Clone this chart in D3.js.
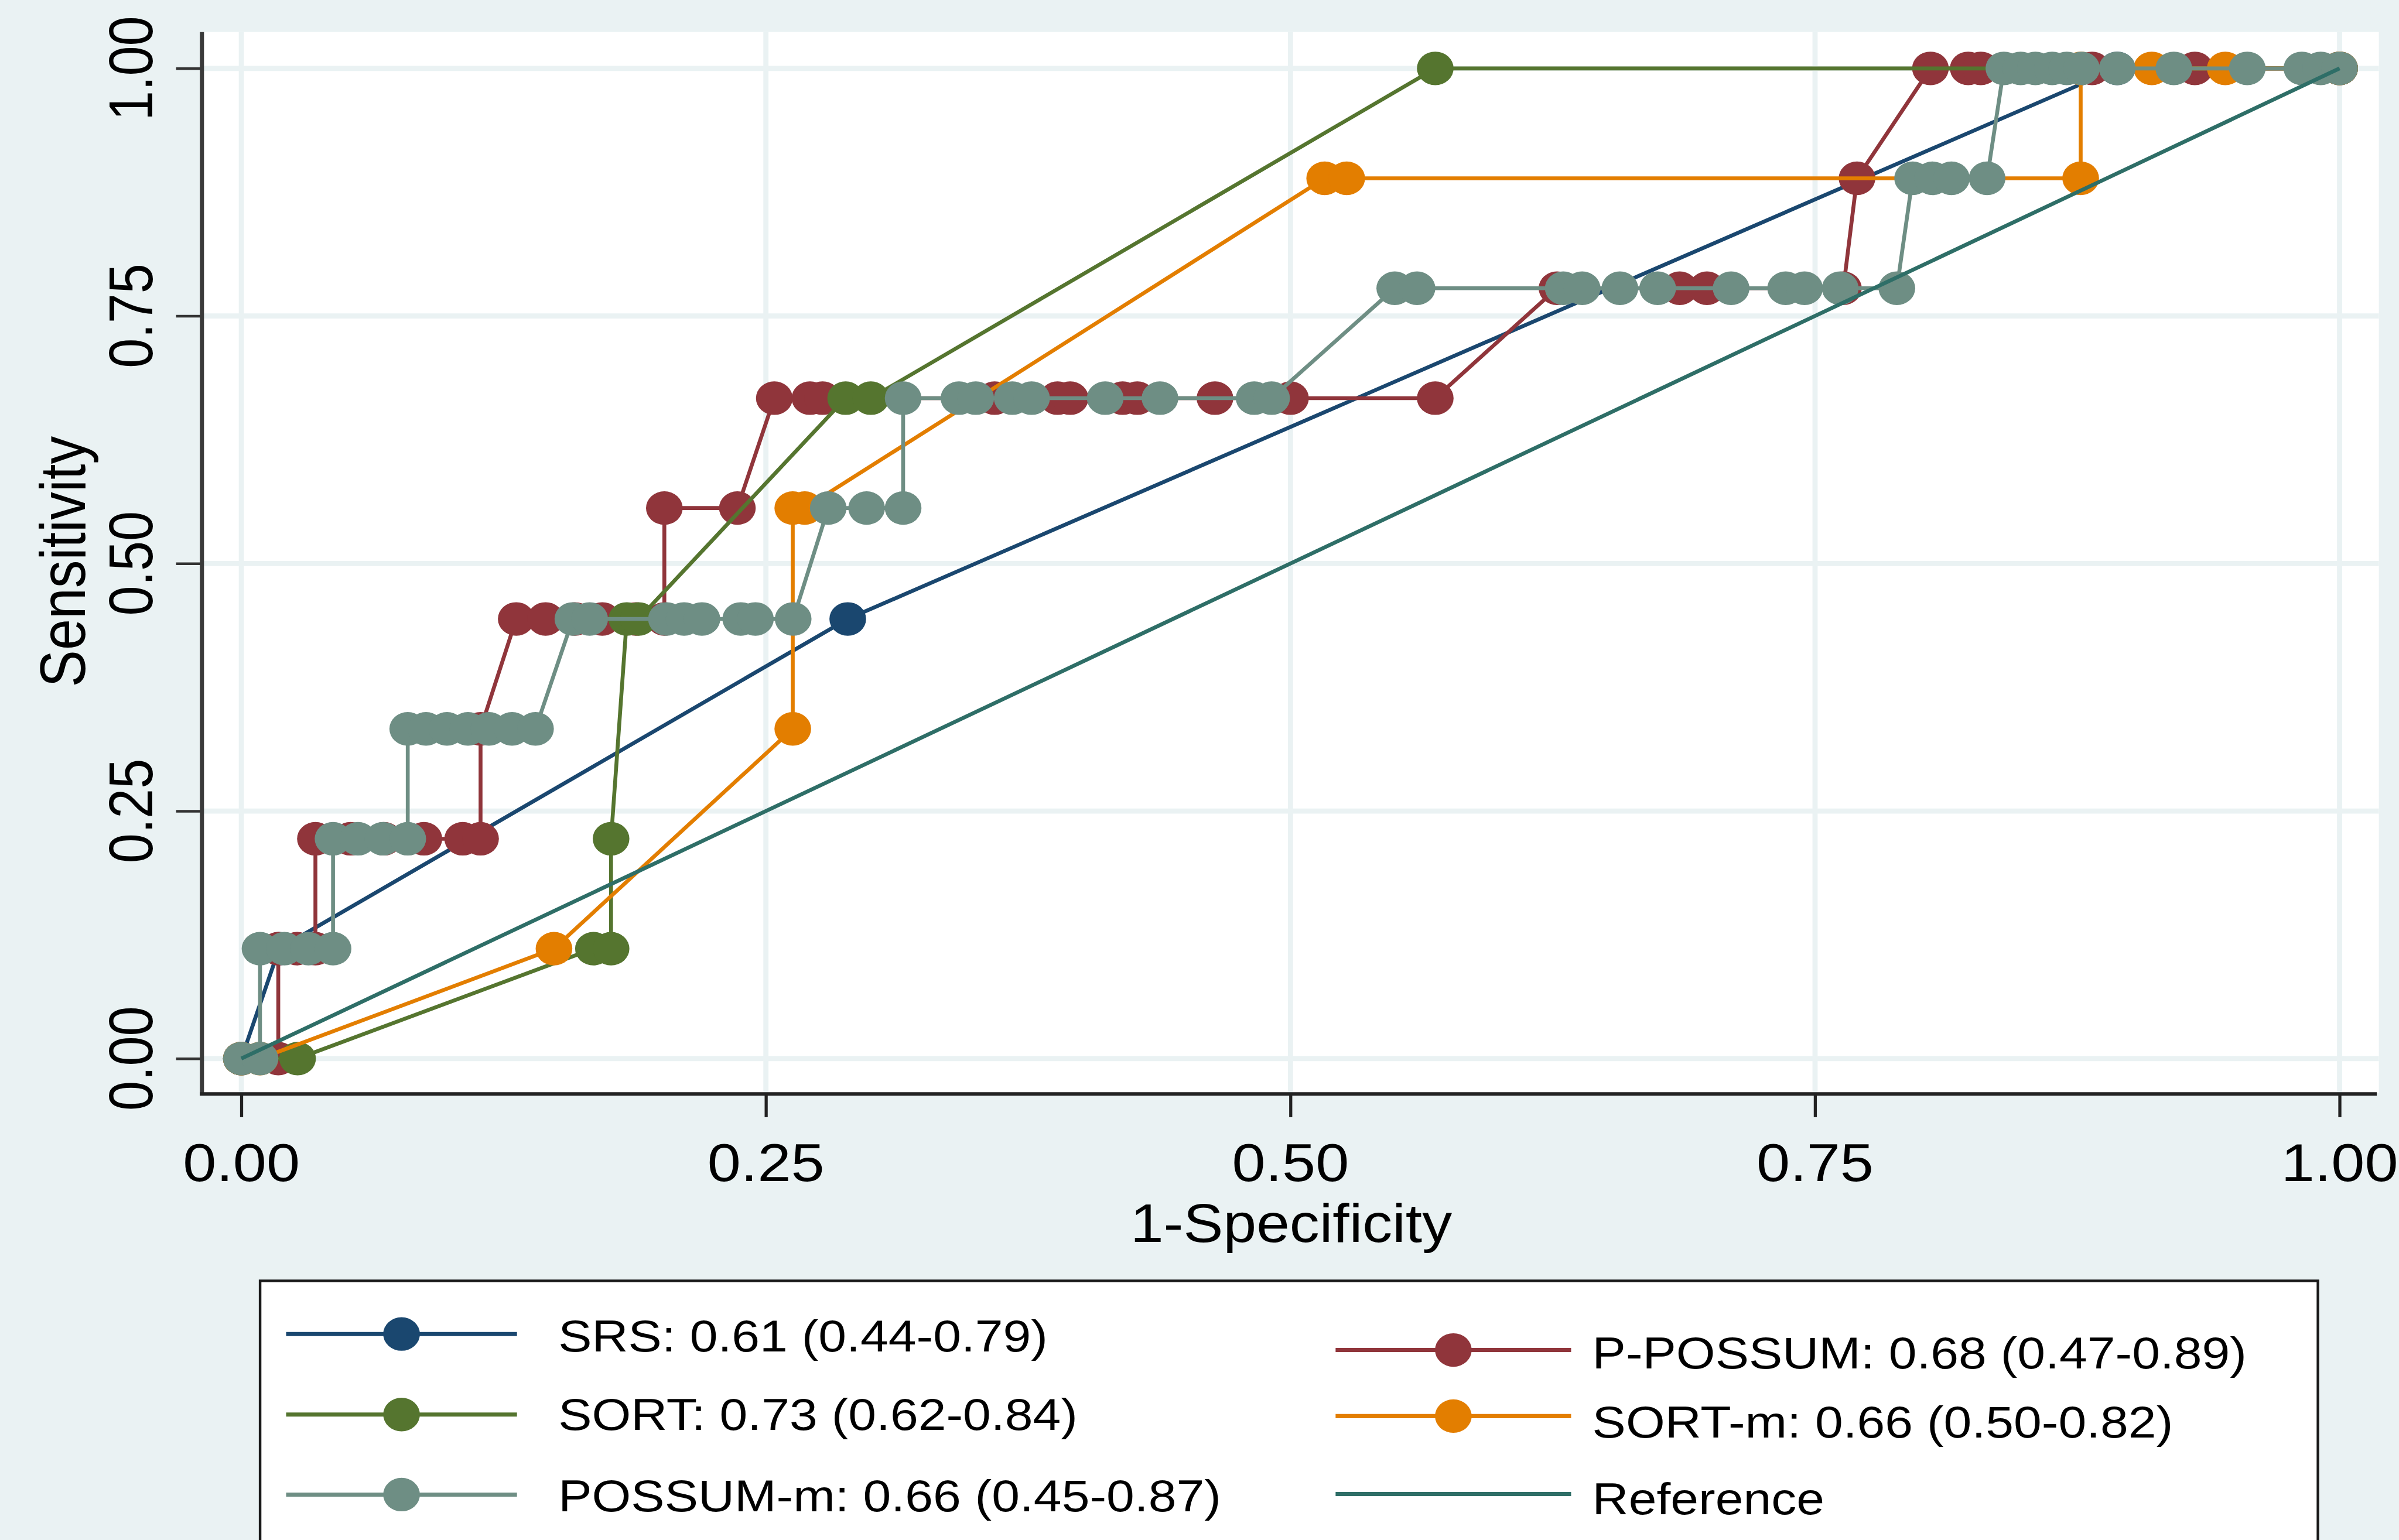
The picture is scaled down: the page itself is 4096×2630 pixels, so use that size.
<!DOCTYPE html>
<html>
<head>
<meta charset="utf-8">
<script src="https://cdn.jsdelivr.net/npm/d3@7"></script>
<style>
  html, body { margin: 0; padding: 0; background: #eaf2f3; overflow: hidden; }
  svg { display: block; }
  text { font-family: "Liberation Sans", Arial, sans-serif; fill: #000; }
</style>
</head>
<body>
<svg id="chart"></svg>
<script>
// ---- data ----
var xTicks = [0, 0.25, 0.5, 0.75, 1];
var yTicks = [0, 0.25, 0.5, 0.75, 1];
var tickLabels = ["0.00", "0.25", "0.50", "0.75", "1.00"];

var seriesNames = [
    "SRS: 0.61 (0.44-0.79)",
    "P-POSSUM: 0.68 (0.47-0.89)",
    "SORT: 0.73 (0.62-0.84)",
    "SORT-m: 0.66 (0.50-0.82)",
    "POSSUM-m: 0.66 (0.45-0.87)",
    "Reference"
];
var seriesColors = ["#1a476f", "#90353b", "#55752f", "#e37e00", "#6e8e84", "#2e6e67"];

// [1-specificity, sensitivity]
var srsPoints = [[0, 0], [0.018, 0.111], [0.289, 0.444], [0.894, 1], [1, 1]];

var ppossumPoints = [
    [0, 0], [0.0176, 0], [0.0176, 0.111], [0.0265, 0.111], [0.0353, 0.111],
    [0.0353, 0.222], [0.052, 0.222], [0.068, 0.222], [0.087, 0.222], [0.1055, 0.222], [0.114, 0.222],
    [0.114, 0.333], [0.131, 0.444], [0.145, 0.444], [0.159, 0.444], [0.172, 0.444], [0.188, 0.444],
    [0.2016, 0.444], [0.2016, 0.556], [0.2364, 0.556],
    [0.254, 0.667], [0.271, 0.667], [0.277, 0.667], [0.359, 0.667], [0.389, 0.667], [0.395, 0.667],
    [0.42, 0.667], [0.427, 0.667], [0.464, 0.667], [0.5, 0.667], [0.569, 0.667],
    [0.627, 0.778], [0.6855, 0.778], [0.6985, 0.778], [0.7635, 0.778],
    [0.77, 0.889], [0.805, 1], [0.823, 1], [0.829, 1], [0.882, 1], [0.931, 1], [1, 1]
];

var sortPoints = [
    [0, 0], [0.0268, 0], [0.1678, 0.111], [0.1762, 0.111], [0.1762, 0.222],
    [0.1837, 0.444], [0.1893, 0.444], [0.288, 0.667], [0.3, 0.667], [0.569, 1], [1, 1]
];

var sortmPoints = [
    [0, 0], [0.0089, 0], [0.149, 0.111], [0.2628, 0.333], [0.2628, 0.556], [0.2685, 0.556],
    [0.5163, 0.889], [0.5268, 0.889], [0.8766, 0.889], [0.8766, 1], [0.9105, 1], [0.9455, 1], [1, 1]
];

var possummPoints = [
    [0, 0], [0.0089, 0], [0.0089, 0.111], [0.0205, 0.111], [0.032, 0.111], [0.0437, 0.111],
    [0.0437, 0.222], [0.0556, 0.222], [0.0675, 0.222], [0.0793, 0.222],
    [0.0793, 0.333], [0.088, 0.333], [0.098, 0.333], [0.108, 0.333], [0.118, 0.333],
    [0.129, 0.333], [0.1402, 0.333],
    [0.158, 0.444], [0.166, 0.444], [0.2026, 0.444], [0.211, 0.444], [0.2195, 0.444],
    [0.238, 0.444], [0.245, 0.444], [0.263, 0.444],
    [0.2797, 0.556], [0.298, 0.556], [0.3154, 0.556],
    [0.3154, 0.667], [0.342, 0.667], [0.35, 0.667], [0.3674, 0.667], [0.3766, 0.667],
    [0.4117, 0.667], [0.4378, 0.667], [0.4827, 0.667], [0.491, 0.667],
    [0.5497, 0.778], [0.5603, 0.778], [0.63, 0.778], [0.639, 0.778], [0.657, 0.778], [0.675, 0.778],
    [0.71, 0.778], [0.736, 0.778], [0.745, 0.778], [0.762, 0.778], [0.789, 0.778],
    [0.7965, 0.889], [0.806, 0.889], [0.815, 0.889], [0.832, 0.889],
    [0.84, 1], [0.848, 1], [0.855, 1], [0.863, 1], [0.87, 1], [0.877, 1], [0.894, 1],
    [0.921, 1], [0.956, 1], [0.982, 1], [0.991, 1], [1, 1]
];

var referencePoints = [[0, 0], [1, 1]];

// drawing order is the same as the legend order
var allSeries = [srsPoints, ppossumPoints, sortPoints, sortmPoints, possummPoints, referencePoints];

// ---- layout, in the reference's own pixel space (viewBox scales it to the window) ----
var W = 4645, H = 2983;
var plot = { left: 393, right: 4606, top: 62, bottom: 2117 };
var bg = "#eaf2f3";
var lineW = 7.5, markRx = 35.5, markRy = 32.5;

var svg = d3.select("#chart")
    .attr("width", 4096)
    .attr("height", 2630)
    .attr("viewBox", "0 0 " + W + " " + H)
    .attr("preserveAspectRatio", "none");

svg.append("rect").attr("width", W).attr("height", H).attr("fill", bg);

var x = d3.scaleLinear().domain([0, 1]).range([467.3, 4530]);
var y = d3.scaleLinear().domain([0, 1]).range([2050.5, 132.5]);

// plot region
svg.append("rect")
    .attr("x", plot.left).attr("y", plot.top)
    .attr("width", plot.right - plot.left).attr("height", plot.bottom - plot.top)
    .attr("fill", "#fff");

// grid
svg.append("g").selectAll("line").data(xTicks).enter().append("line")
    .attr("x1", d => x(d)).attr("x2", d => x(d))
    .attr("y1", plot.top).attr("y2", plot.bottom)
    .attr("stroke", bg).attr("stroke-width", 10);
svg.append("g").selectAll("line").data(yTicks).enter().append("line")
    .attr("y1", d => y(d)).attr("y2", d => y(d))
    .attr("x1", plot.left).attr("x2", plot.right)
    .attr("stroke", bg).attr("stroke-width", 10);

// axes with d3 axis generators, then restyled
var xAxis = svg.append("g")
    .attr("transform", "translate(0," + 2119 + ")")
    .call(d3.axisBottom(x).tickValues(xTicks).tickSize(45).tickFormat(""));
xAxis.select(".domain").remove();
xAxis.selectAll(".tick line").attr("stroke", "#222").attr("stroke-width", 6);

var yAxis = svg.append("g")
    .attr("transform", "translate(" + 391 + ",0)")
    .call(d3.axisLeft(y).tickValues(yTicks).tickSize(50).tickFormat(""));
yAxis.select(".domain").remove();
yAxis.selectAll(".tick line").attr("stroke", "#333").attr("stroke-width", 5);

svg.append("line")
    .attr("x1", 391).attr("x2", 391).attr("y1", plot.top).attr("y2", 2122)
    .attr("stroke", "#3a3a3a").attr("stroke-width", 8);
svg.append("line")
    .attr("x1", 387).attr("x2", 4602).attr("y1", 2119).attr("y2", 2119)
    .attr("stroke", "#222").attr("stroke-width", 7);

// tick labels
svg.append("g").selectAll("text").data(xTicks).enter().append("text")
    .attr("transform", d => "translate(" + x(d) + ",2288) scale(1.12,1)")
    .attr("text-anchor", "middle")
    .style("font-size", "104px")
    .text((d, i) => tickLabels[i]);

svg.append("g").selectAll("text").data(yTicks).enter().append("text")
    .attr("transform", d => "translate(295," + y(d) + ") scale(1.15,1) rotate(-90)")
    .attr("text-anchor", "middle")
    .style("font-size", "104px")
    .text((d, i) => tickLabels[i]);

// axis titles
svg.append("text")
    .attr("transform", "translate(2500,2406) scale(1.09,1)")
    .attr("text-anchor", "middle")
    .style("font-size", "106px")
    .text("1-Specificity");

svg.append("text")
    .attr("transform", "translate(165,1088) scale(1.15,1) rotate(-90)")
    .attr("text-anchor", "middle")
    .style("font-size", "108px")
    .text("Sensitivity");

// curves
var line = d3.line().x(d => x(d[0])).y(d => y(d[1]));

allSeries.forEach(function(pts, i) {
    var g = svg.append("g").attr("class", "series-" + i);
    g.append("path")
        .datum(pts)
        .attr("d", line)
        .attr("fill", "none")
        .attr("stroke", seriesColors[i])
        .attr("stroke-width", lineW)
        .attr("stroke-linejoin", "round");
    if (i < 5) {
        g.selectAll("ellipse").data(pts).enter().append("ellipse")
            .attr("cx", d => x(d[0]))
            .attr("cy", d => y(d[1]))
            .attr("rx", markRx).attr("ry", markRy)
            .attr("fill", seriesColors[i]);
    }
});

// legend
svg.append("rect")
    .attr("x", 503.6).attr("y", 2481)
    .attr("width", 4488 - 503.6).attr("height", 700)
    .attr("fill", "#fff")
    .attr("stroke", "#1a1a1a").attr("stroke-width", 5);

// one entry per series: line start/end, line y, text x, text baseline
var legendLayout = [
    { x1: 554, x2: 1001, ly: 2584, tx: 1081, ty: 2618 },
    { x1: 2586, x2: 3042, ly: 2615, tx: 3083, ty: 2651 },
    { x1: 554, x2: 1001, ly: 2740, tx: 1081, ty: 2770 },
    { x1: 2586, x2: 3042, ly: 2743, tx: 3083, ty: 2785 },
    { x1: 554, x2: 1001, ly: 2895, tx: 1081, ty: 2927 },
    { x1: 2586, x2: 3042, ly: 2894, tx: 3083, ty: 2933 }
];

legendLayout.forEach(function(p, i) {
    svg.append("line")
        .attr("x1", p.x1).attr("x2", p.x2).attr("y1", p.ly).attr("y2", p.ly)
        .attr("stroke", seriesColors[i]).attr("stroke-width", 8);
    if (i < 5) {
        svg.append("ellipse")
            .attr("cx", (p.x1 + p.x2) / 2).attr("cy", p.ly)
            .attr("rx", markRx).attr("ry", markRy)
            .attr("fill", seriesColors[i]);
    }
    svg.append("text")
        .attr("transform", "translate(" + p.tx + "," + p.ty + ") scale(1.12,1)")
        .style("font-size", "87px")
        .text(seriesNames[i]);
});
</script>
</body>
</html>
